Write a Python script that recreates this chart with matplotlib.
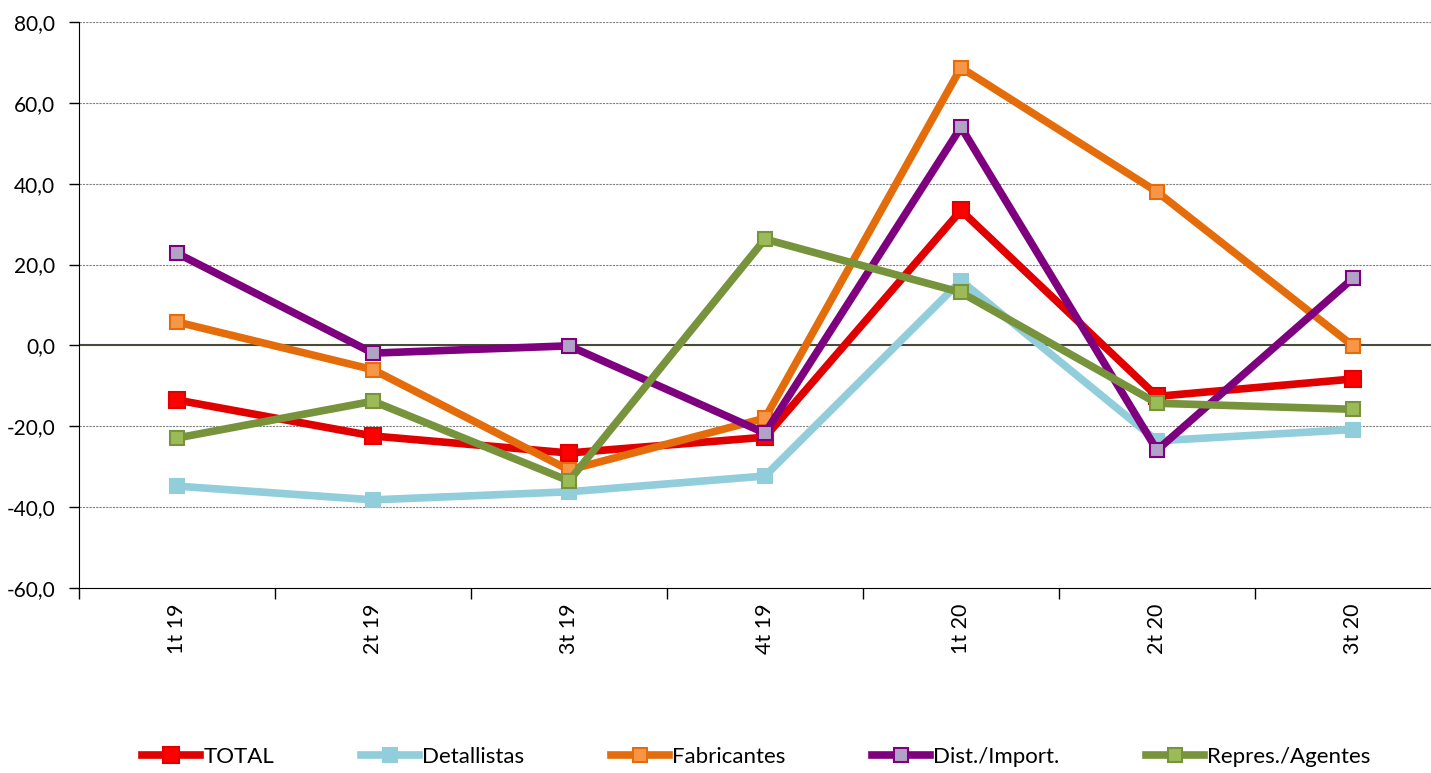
import matplotlib
matplotlib.use('Agg')
import matplotlib.pyplot as plt
from matplotlib.ticker import FuncFormatter, MultipleLocator

# Data
quarters = ['1t 19', '2t 19', '3t 19', '4t 19', '1t 20', '2t 20', '3t 20']
total = [-13.5, -22.4, -26.6, -22.7, 33.4, -12.6, -8.3]
detallistas = [-34.8, -38.2, -36.2, -32.3, 16.0, -23.6, -20.8]
fabricantes = [5.8, -6.0, -30.8, -18.0, 68.7, 38.0, -0.1]
dist_import = [22.8, -1.9, -0.1, -21.7, 54.0, -25.9, 16.6]
repres_agentes = [-22.9, -13.8, -33.5, 26.3, 13.1, -14.3, -15.8]

plt.rcParams['font.family'] = ['Lato', 'DejaVu Sans']

fig = plt.figure(figsize=(14.31, 7.73), dpi=100)
ax = fig.add_axes([79 / 1431, 185 / 773, 1372 / 1431, 566 / 773])

x = range(len(quarters))
series = [
    ('TOTAL', total, '#E00000', '#FF0000', '#E00000', 12),
    ('Detallistas', detallistas, '#92CDDC', '#92CDDC', '#92CDDC', 10.5),
    ('Fabricantes', fabricantes, '#E46C0A', '#F79646', '#E46C0A', 10.5),
    ('Dist./Import.', dist_import, '#7F007F', '#B3A2C7', '#7F007F', 10.5),
    ('Repres./Agentes', repres_agentes, '#77933C', '#9BBB59', '#77933C', 10.5),
]
for name, vals, lc, fc, ec, ms in series:
    ax.plot(x, vals, color=lc, lw=5.5, marker='s', markersize=ms,
            markerfacecolor=fc, markeredgecolor=ec, markeredgewidth=1.5,
            label=name, solid_joinstyle='miter')

# axes
ax.set_xlim(-0.5, 6.5)
ax.set_ylim(-60, 80)
ax.yaxis.set_major_locator(MultipleLocator(20))
ax.yaxis.set_major_formatter(FuncFormatter(lambda v, p: f'{v:.1f}'.replace('.', ',')))
ax.set_xticks(list(x))
ax.set_xticklabels(quarters, rotation=90, fontsize=15.5)
ax.set_xticks([i - 0.5 for i in range(len(quarters) + 1)], minor=True)
ax.tick_params(axis='x', which='major', length=0, pad=11)
ax.tick_params(axis='x', which='minor', length=8, width=1, color='black')
ax.tick_params(axis='y', length=7, width=1, labelsize=15, pad=10)

for v in range(-40, 81, 20):
    if v != 0:
        ax.axhline(v, color='#808080', lw=0.8, ls=(0, (2, 1)), zorder=0)
ax.axhline(0, color='#4A4A3A', lw=1.5, zorder=1)

for s in ['top', 'right']:
    ax.spines[s].set_visible(False)
ax.spines['left'].set_color('black')
ax.spines['bottom'].set_color('black')

fig.legend(loc='center', bbox_to_anchor=(0.5286, 0.021), ncol=5, frameon=False,
           fontsize=16, handlelength=2.6, columnspacing=3.9, handletextpad=0.15)

fig.savefig('out.png', dpi=100)
